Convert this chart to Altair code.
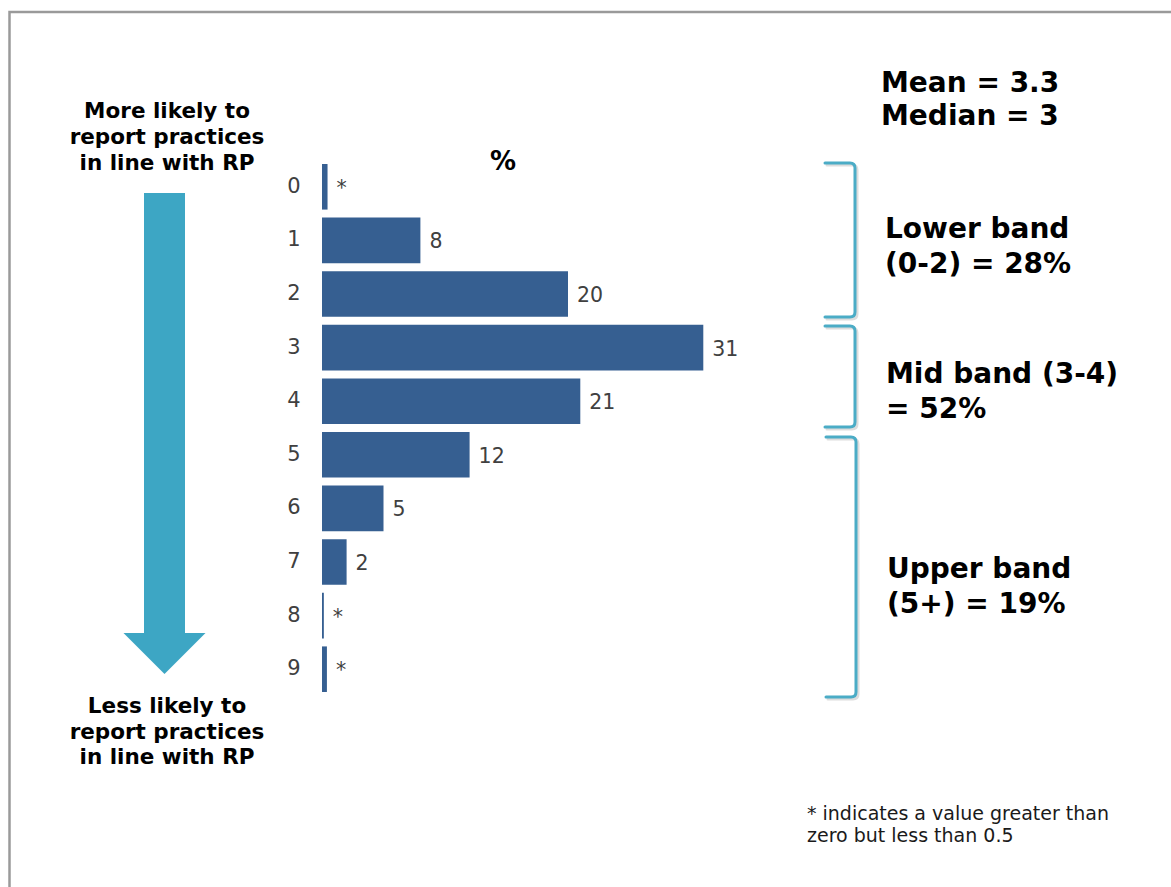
import altair as alt
import pandas as pd

# Distribution of scores (share of respondents, %)
scores = ["0", "1", "2", "3", "4", "5", "6", "7", "8", "9"]
pcts = [0.45, 8, 20, 31, 21, 12, 5, 2, 0.15, 0.4]
value_labels = ["*", "8", "20", "31", "21", "12", "5", "2", "*", "*"]

summary_lines = ["Mean = 3.3", "Median = 3"]
lower_band_lines = ["Lower band", "(0-2) = 28%"]
mid_band_lines = ["Mid band (3-4)", "= 52%"]
upper_band_lines = ["Upper band", "(5+) = 19%"]
top_note_lines = ["More likely to", "report practices", "in line with RP"]
bottom_note_lines = ["Less likely to", "report practices", "in line with RP"]
footnote_lines = ["* indicates a value greater than", "zero but less than 0.5"]

FONT = "DejaVu Sans"
BAR_COLOR = "#365F91"
ACCENT = "#4BACC6"
ARROW_COLOR = "#3DA6C4"

df = pd.DataFrame({"score": scores, "pct": pcts, "label": value_labels})
one = pd.DataFrame({"k": [0]})

y_enc = alt.Y(
    "score:N",
    sort=scores,
    scale=alt.Scale(paddingInner=0.15, paddingOuter=0.075),
    axis=alt.Axis(
        title=None, domain=False, ticks=False, tickSize=0, labelPadding=22,
        labelFontSize=21, labelColor="#404040", labelFont=FONT, grid=False,
    ),
)
x_enc = alt.X("pct:Q", scale=alt.Scale(domain=[0, 40]), axis=None)

bars = alt.Chart(df).mark_bar(color=BAR_COLOR).encode(x=x_enc, y=y_enc)
values = alt.Chart(df).mark_text(
    align="left", baseline="middle", dx=9, dy=2, fontSize=20.5, font=FONT, color="#404040"
).encode(x=x_enc, y=y_enc, text="label:N")


def note(lines, x, y, size, line_height, bold=True, align="center", color="#000000"):
    # y is the centre of the first line
    return alt.Chart(one).mark_text(
        align=align, baseline="middle", fontSize=size, font=FONT,
        fontWeight="bold" if bold else "normal", lineHeight=line_height, color=color,
    ).encode(x=alt.value(x), y=alt.value(y), text=alt.value(lines))


def path_shape(path, x, y, filled, color, width=0, opacity=1.0):
    # size=4 keeps custom path coordinates in pixels
    props = dict(shape=path, size=4, filled=filled, opacity=opacity)
    if filled:
        props.update(fill=color, strokeWidth=0)
    else:
        props.update(stroke=color, strokeWidth=width, strokeCap="round", strokeJoin="round")
    return alt.Chart(one).mark_point(**props).encode(x=alt.value(x), y=alt.value(y))


def bracket(half):
    return (f"M -30,{-half} L -5,{-half} Q 0,{-half} 0,{-half + 5} "
            f"L 0,{half - 5} Q 0,{half} -5,{half} L -30,{half}")


arrow_path = "M -20.5,0 L 20.5,0 L 20.5,440 L 41,440 L 0,481 L -41,440 L -20.5,440 Z"

frame = alt.Chart(one).mark_rect(fillOpacity=0, stroke="#9a9a9a", strokeWidth=2.5).encode(
    x=alt.value(-312.5), x2=alt.value(880), y=alt.value(-148), y2=alt.value(760)
)

brackets = []
for bx, by, half in [(533, 80, 77), (533, 216.5, 50.5), (534, 407, 130)]:
    brackets.append(path_shape(bracket(half), bx + 2, by + 2, False, "#c8c8c8", 3, 0.6))
    brackets.append(path_shape(bracket(half), bx, by, False, ACCENT, 3))

chart = alt.layer(
    frame,
    bars,
    values,
    note("%", 181, 2, 26, 26),
    note(top_note_lines, -155, -48, 21.5, 26),
    note(bottom_note_lines, -155, 547, 21.5, 25.5),
    path_shape(arrow_path, -157.5, 33, True, ARROW_COLOR),
    *brackets,
    note(summary_lines, 559, -76, 28, 33, align="left"),
    note(lower_band_lines, 563, 70, 28, 35, align="left"),
    note(mid_band_lines, 564, 215, 28, 35, align="left"),
    note(upper_band_lines, 565, 410, 28, 35, align="left"),
    note(footnote_lines, 485, 654, 19, 22, bold=False, align="left", color="#1a1a1a"),
).properties(
    width=492,
    height=536,
    padding={"left": 322, "top": 160, "right": 357, "bottom": 191},
    autosize="none",
    background="white",
).configure_view(stroke=None)

chart.save("out.html", embed_options={"renderer": "svg", "actions": False})
